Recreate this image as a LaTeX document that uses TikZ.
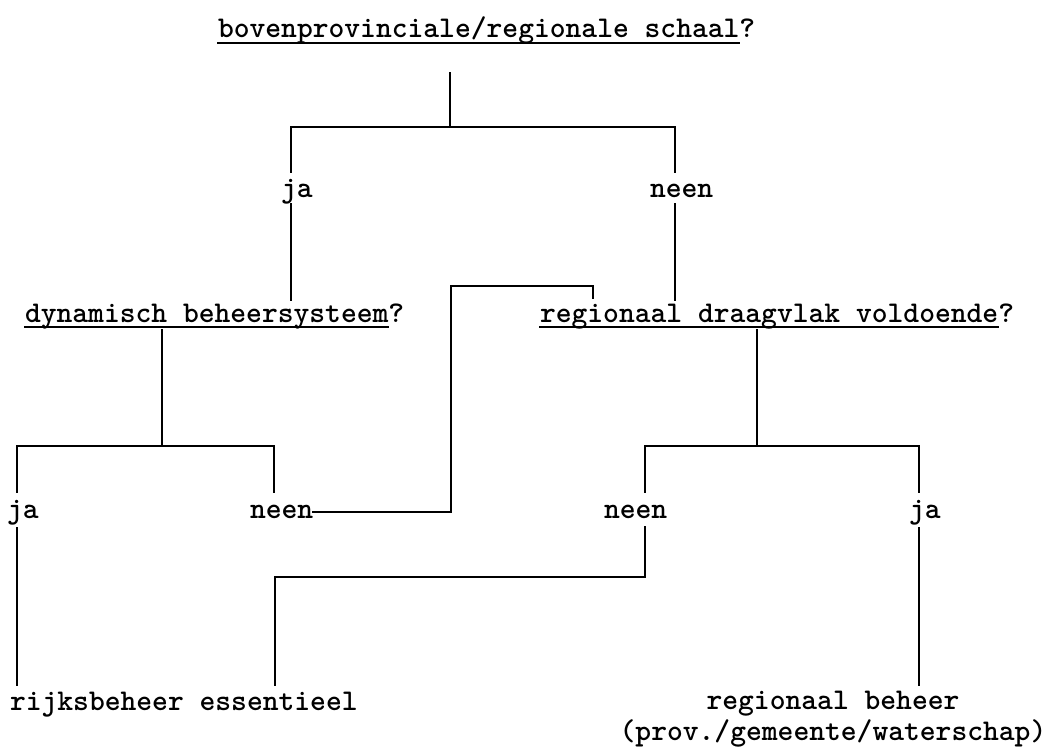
\documentclass[tikz,border=0pt]{standalone}
\usepackage{fontspec}
\begin{document}
\begin{tikzpicture}[x=1pt,y=-1pt,
  lbl/.style={anchor=base west, inner sep=0pt, outer sep=0pt, font=\fontsize{30.1}{31}\selectfont\ttfamily\bfseries},
  lblc/.style={lbl, anchor=base},
  ln/.style={line width=1.8pt, line cap=rect, line join=miter}]
\useasboundingbox (0,0) rectangle (1051,749);

% title
\node[lbl] (t) at (218,38) {bovenprovinciale/regionale schaal};
\node[lbl] (tq) at (t.base east) {?};
\draw[ln] ([yshift=-5pt]t.base west) -- ([yshift=-5pt]t.base east);

% first split
\coordinate (top) at (450,73);
\coordinate (h1) at (450,127);
\coordinate (h1l) at (291,127);
\coordinate (h1r) at (675,127);
\node[lbl] (ja1) at (281,197) {ja};
\node[lbl] (nee1) at (650,197) {neen};
\coordinate (ja1t) at (291,172);
\coordinate (ja1b) at (291,204);
\coordinate (nee1t) at (675,172);
\coordinate (nee1b) at (675,204);
\coordinate (ja1e) at (291,300);
\coordinate (nee1e) at (675,300);
\draw[ln] (top) -- (h1);
\draw[ln] (ja1t) -- (h1l) -- (h1r) -- (nee1t);
\draw[ln] (ja1b) -- (ja1e);
\draw[ln] (nee1b) -- (nee1e);

% questions
\node[lbl] (q1) at (25,322) {dynamisch beheersysteem};
\node[lbl] (q1q) at (q1.base east) {?};
\draw[ln] ([yshift=-5pt]q1.base west) -- ([yshift=-5pt]q1.base east);
\node[lbl] (q2) at (540,322) {regionaal draagvlak voldoende};
\node[lbl] (q2q) at (q2.base east) {?};
\draw[ln] ([yshift=-5pt]q2.base west) -- ([yshift=-5pt]q2.base east);

% left split
\coordinate (d1) at (162,330);
\coordinate (d1h) at (162,446);
\coordinate (l1) at (17,446);
\coordinate (l1r) at (274,446);
\coordinate (ja2t) at (17,492);
\coordinate (nee2t) at (274,492);
\draw[ln] (d1) -- (d1h);
\draw[ln] (ja2t) -- (l1) -- (l1r) -- (nee2t);

% right split
\coordinate (d2) at (757,330);
\coordinate (d2h) at (757,446);
\coordinate (r1) at (645,446);
\coordinate (r1r) at (919,446);
\coordinate (nee3t) at (645,492);
\coordinate (ja3t) at (919,492);
\draw[ln] (d2) -- (d2h);
\draw[ln] (nee3t) -- (r1) -- (r1r) -- (ja3t);

% second row labels
\node[lbl] (ja2) at (7,518) {ja};
\node[lbl] (nee2) at (250,518) {neen};
\node[lbl] (nee3) at (604,518) {neen};
\node[lbl] (ja3) at (909,518) {ja};

% neen (left) -> regionaal draagvlak
\coordinate (c1) at (451,512);
\coordinate (c2) at (451,286);
\coordinate (c3) at (593,286);
\coordinate (c4) at (593,298);
\draw[ln] (nee2.east |- c1) -- (c1) -- (c2) -- (c3) -- (c4);

% neen (right) -> rijksbeheer
\coordinate (n3b) at (645,527);
\coordinate (n3h) at (645,577);
\coordinate (n3l) at (275,577);
\coordinate (n3e) at (275,685);
\draw[ln] (n3b) -- (n3h) -- (n3l) -- (n3e);

% ja lines to outcomes
\coordinate (ja2b) at (17,528);
\coordinate (ja2e) at (17,685);
\coordinate (ja3b) at (919,528);
\coordinate (ja3e) at (919,685);
\draw[ln] (ja2b) -- (ja2e);
\draw[ln] (ja3b) -- (ja3e);

% outcomes
\node[lbl] (o1) at (10,710) {rijksbeheer essentieel};
\node[lblc] (o2) at (833,709) {regionaal beheer};
\node[lblc] (o2b) at (833,740) {(prov./gemeente/waterschap)};
\end{tikzpicture}
\end{document}
